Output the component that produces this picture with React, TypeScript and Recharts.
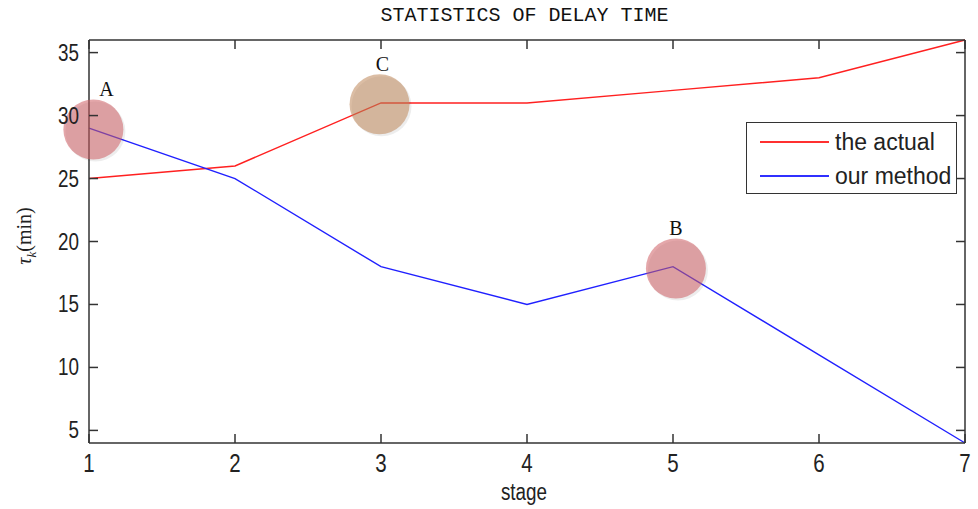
import {
  Label,
  Legend,
  Line,
  LineChart,
  ReferenceDot,
  XAxis,
  YAxis,
} from "recharts";

const stages = [1, 2, 3, 4, 5, 6, 7];
const actualDelay = [25, 26, 31, 31, 32, 33, 36];
const ourMethodDelay = [29, 25, 18, 15, 18, 11, 4];
const yTicks = [5, 10, 15, 20, 25, 30, 35];

// highlighted points marked in the figure
const marks = [
  { name: "A", stage: 1.03, value: 28.9, labelStage: 1.12, labelValue: 32.1, color: "rgb(205,95,100)" },
  { name: "C", stage: 2.99, value: 30.9, labelStage: 3.01, labelValue: 34.1, color: "rgb(190,135,90)" },
  { name: "B", stage: 5.02, value: 17.85, labelStage: 5.02, labelValue: 21.1, color: "rgb(205,95,100)" },
];

const data = stages.map((stage, i) => ({
  stage,
  actual: actualDelay[i],
  ours: ourMethodDelay[i],
}));

const AXIS = "#333";
const TICK_FONT = "'Liberation Sans', Arial, sans-serif";

function NarrowText({ x, y, anchor, size, children }: any) {
  return (
    <text
      transform={`translate(${x},${y}) scale(0.82,1)`}
      textAnchor={anchor}
      fontSize={size}
      fill="#222"
      fontFamily={TICK_FONT}
    >
      {children}
    </text>
  );
}

function BottomTick({ x, y, payload }: any) {
  return (
    <g>
      <line x1={x} x2={x} y1={y} y2={y - 9} stroke={AXIS} strokeWidth={1.5} />
      <NarrowText x={x} y={y + 29} anchor="middle" size={25}>
        {payload.value}
      </NarrowText>
    </g>
  );
}

function TopTick({ x, y }: any) {
  return <line x1={x} x2={x} y1={y} y2={y + 9} stroke={AXIS} strokeWidth={1.5} />;
}

function LeftTick({ x, y, payload }: any) {
  return (
    <g>
      <line x1={x} x2={x + 9} y1={y} y2={y} stroke={AXIS} strokeWidth={1.5} />
      <NarrowText x={x - 10} y={y + 8} anchor="end" size={23}>
        {payload.value}
      </NarrowText>
    </g>
  );
}

function RightTick({ x, y }: any) {
  return <line x1={x} x2={x - 9} y1={y} y2={y} stroke={AXIS} strokeWidth={1.5} />;
}

function MarkCircle({ cx, cy, fill }: any) {
  return (
    <g>
      <circle cx={cx + 2} cy={cy + 2} r={30} fill="rgba(0,0,0,0.07)" />
      <circle cx={cx} cy={cy} r={30} fill={fill} fillOpacity={0.55} />
    </g>
  );
}

function LegendBox() {
  const row = (color: string, text: string) => (
    <div style={{ display: "flex", alignItems: "center", height: 34 }}>
      <span style={{ display: "inline-block", width: 69, height: 0, borderTop: `2px solid ${color}`, marginRight: 6 }} />
      <span style={{ fontSize: 23, lineHeight: "34px", color: "#222", fontFamily: TICK_FONT }}>{text}</span>
    </div>
  );
  return (
    <div
      style={{
        border: "1.5px solid #333",
        background: "#fff",
        width: 211,
        height: 72,
        padding: "2px 0 0 13px",
        boxSizing: "border-box",
      }}
    >
      {row("#ff3030", "the actual")}
      {row("#3030ff", "our method")}
    </div>
  );
}

export default function App() {
  return (
    <div style={{ position: "absolute", left: 0, top: 0, width: 978, height: 509, background: "#fff" }}>
      <div
        style={{
          position: "absolute",
          left: 0,
          top: 4,
          width: 1049,
          textAlign: "center",
          fontFamily: "'Liberation Mono', 'DejaVu Sans Mono', monospace",
          fontSize: 20,
          color: "#111",
        }}
      >
        STATISTICS OF DELAY TIME
      </div>
      <LineChart width={978} height={509} data={data} margin={{ top: 39, right: 12, bottom: 0, left: 0 }}>
        <XAxis
          xAxisId="bottom"
          dataKey="stage"
          type="number"
          domain={[1, 7]}
          ticks={stages}
          height={66}
          tickSize={0}
          tickMargin={0}
          tick={<BottomTick />}
          axisLine={{ stroke: AXIS, strokeWidth: 1.5 }}
        >
          <Label
            content={() => (
              <NarrowText x={524} y={500} anchor="middle" size={23}>
                stage
              </NarrowText>
            )}
          />
        </XAxis>
        <XAxis
          xAxisId="top"
          orientation="top"
          dataKey="stage"
          type="number"
          domain={[1, 7]}
          ticks={stages}
          height={1}
          tickSize={0}
          tickMargin={0}
          tick={<TopTick />}
          axisLine={{ stroke: AXIS, strokeWidth: 1.5 }}
        />
        <YAxis
          yAxisId="left"
          type="number"
          domain={[4, 36]}
          ticks={yTicks}
          width={89}
          tickSize={0}
          tickMargin={0}
          tick={<LeftTick />}
          axisLine={{ stroke: AXIS, strokeWidth: 1.5 }}
        >
          <Label
            content={() => (
              <text
                x={31}
                y={236}
                transform="rotate(-90 31 236)"
                textAnchor="middle"
                fontSize={20}
                fill="#222"
                fontFamily="'Liberation Serif', 'Times New Roman', serif"
              >
                <tspan fontStyle="italic">τ</tspan>
                <tspan fontStyle="italic" fontSize={13} dy={5}>k</tspan>
                <tspan dy={-5}>(min)</tspan>
              </text>
            )}
          />
        </YAxis>
        <YAxis
          yAxisId="right"
          orientation="right"
          type="number"
          domain={[4, 36]}
          ticks={yTicks}
          width={1}
          tickSize={0}
          tickMargin={0}
          tick={<RightTick />}
          axisLine={{ stroke: AXIS, strokeWidth: 1.5 }}
        />
        <Legend
          layout="horizontal"
          verticalAlign="middle"
          align="center"
          content={<LegendBox />}
          wrapperStyle={{ position: "absolute", left: 746, top: 122, width: "auto" }}
        />
        {/* invisible series so the top and right frame axes are in use */}
        <Line
          xAxisId="top"
          yAxisId="right"
          dataKey="actual"
          stroke="none"
          dot={false}
          activeDot={false}
          legendType="none"
          isAnimationActive={false}
        />
        <Line
          xAxisId="bottom"
          yAxisId="left"
          type="linear"
          dataKey="actual"
          name="the actual"
          stroke="#ff2020"
          strokeWidth={1.4}
          dot={false}
          isAnimationActive={false}
        />
        <Line
          xAxisId="bottom"
          yAxisId="left"
          type="linear"
          dataKey="ours"
          name="our method"
          stroke="#2020ff"
          strokeWidth={1.4}
          dot={false}
          isAnimationActive={false}
        />
        {marks.map((m) => (
          <ReferenceDot
            key={m.name}
            xAxisId="bottom"
            yAxisId="left"
            x={m.stage}
            y={m.value}
            r={30}
            fill={m.color}
            shape={<MarkCircle />}
            ifOverflow="visible"
          />
        ))}
        {marks.map((m) => (
          <ReferenceDot
            key={`label-${m.name}`}
            xAxisId="bottom"
            yAxisId="left"
            x={m.labelStage}
            y={m.labelValue}
            r={0}
            fill="none"
            stroke="none"
            ifOverflow="visible"
            label={{
              value: m.name,
              position: "center",
              fontSize: 20,
              fill: "#111",
              fontFamily: "'Liberation Serif', 'Times New Roman', serif",
            }}
          />
        ))}
      </LineChart>
    </div>
  );
}
